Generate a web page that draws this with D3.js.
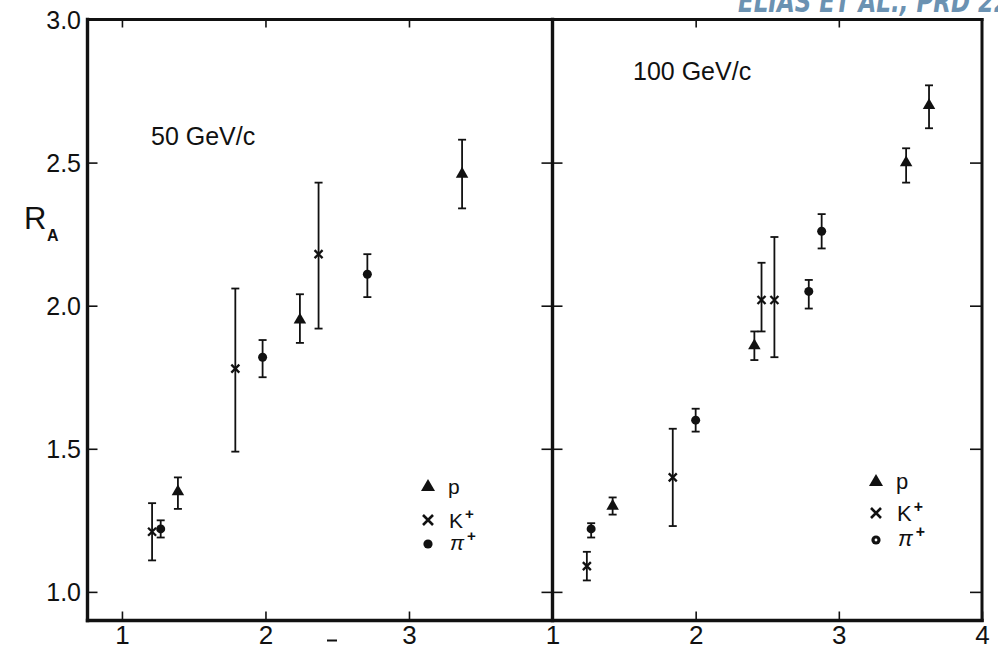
<!DOCTYPE html>
<html>
<head>
<meta charset="utf-8">
<script src="https://cdn.jsdelivr.net/npm/d3@7/dist/d3.min.js"></script>
<style>
  html, body { margin: 0; padding: 0; background: #ffffff; }
  svg { display: block; }
  text { font-family: "Liberation Sans", Arial, sans-serif; fill: #111; }
</style>
</head>
<body>
<script>
// Nuclear enhancement ratio R_A versus transverse momentum, 50 and 100 GeV/c beams.

// ---- data: 50 GeV/c ----
const p50_x   = [1.39, 2.24, 3.37];
const p50_y   = [1.35, 1.95, 2.46];
const p50_lo  = [1.29, 1.87, 2.34];
const p50_hi  = [1.40, 2.04, 2.58];

const k50_x   = [1.21, 1.79, 2.37];
const k50_y   = [1.21, 1.78, 2.18];
const k50_lo  = [1.11, 1.49, 1.92];
const k50_hi  = [1.31, 2.06, 2.43];

const pi50_x  = [1.27, 1.98, 2.71];
const pi50_y  = [1.22, 1.82, 2.11];
const pi50_lo = [1.19, 1.75, 2.03];
const pi50_hi = [1.25, 1.88, 2.18];

// ---- data: 100 GeV/c ----
const p100_x   = [1.42, 2.41, 3.47, 3.63];
const p100_y   = [1.30, 1.86, 2.50, 2.70];
const p100_lo  = [1.27, 1.81, 2.43, 2.62];
const p100_hi  = [1.33, 1.91, 2.55, 2.77];

const k100_x   = [1.24, 1.84, 2.46, 2.55];
const k100_y   = [1.09, 1.40, 2.02, 2.02];
const k100_lo  = [1.04, 1.23, 1.91, 1.82];
const k100_hi  = [1.14, 1.57, 2.15, 2.24];

const pi100_x  = [1.27, 2.00, 2.79, 2.88];
const pi100_y  = [1.22, 1.60, 2.05, 2.26];
const pi100_lo = [1.19, 1.56, 1.99, 2.20];
const pi100_hi = [1.24, 1.64, 2.09, 2.32];

// ---- axis ticks ----
const yTickValues = [1.0, 1.5, 2.0, 2.5, 3.0];
const yTickLabels = ["1.0", "1.5", "2.0", "2.5", "3.0"];
const xTicksLeft  = [1, 2, 3];
const xLabelsLeft = ["1", "2", "3"];
const xTicksRight = [1, 2, 3, 4];
const xLabelsRight = ["1", "2", "3", "4"];
const panelTitles = ["50 GeV/c", "100 GeV/c"];
const legendNames = ["p", "K", "\u03c0"];
const header = "ELIAS ET AL., PRD 22";

// ---- layout ----
const W = 998, H = 645;
const frameTop = 19.5, frameBottom = 620.5;
const leftX = 87.5, midX = 552.5, rightX = 982;

const svg = d3.select("body").append("svg").attr("width", W).attr("height", H);

const y = d3.scaleLinear().domain([0.9, 3.0]).range([frameBottom, frameTop]);
const xL = d3.scaleLinear().domain([0.76, 4.0]).range([leftX, midX]);
const xR = d3.scaleLinear().domain([1.0, 4.0]).range([midX, rightX]);

const zip = (xs, ys, los, his) => xs.map((v, i) => ({x: v, y: ys[i], lo: los[i], hi: his[i]}));

// header annotation, clipped by the page top
svg.append("text")
  .attr("x", 738).attr("y", 12)
  .attr("textLength", 272).attr("lengthAdjust", "spacingAndGlyphs")
  .style("font-family", "'DejaVu Sans', sans-serif")
  .style("font-size", "30px").style("font-style", "italic").style("font-weight", "bold")
  .style("fill", "#6b92b2")
  .text(header);

// ---- axes ----
const yFmt = (d) => yTickLabels[yTickValues.indexOf(d)];

// left y axis, inward ticks
svg.append("g").attr("transform", `translate(${leftX},0)`)
  .call(d3.axisLeft(y).tickValues(yTickValues).tickFormat(yFmt).tickSizeInner(-10).tickSizeOuter(0).tickPadding(6.5))
  .call(g => g.select(".domain").remove())
  .call(g => g.selectAll("line").attr("stroke", "#111").attr("stroke-width", 1.6))
  .call(g => g.selectAll("text").style("font-size", "25px").attr("font-family", null).attr("dy", "0.36em"));

// divider ticks crossing both panels
svg.append("g").attr("transform", `translate(${midX},0)`)
  .call(d3.axisRight(y).tickValues(yTickValues.slice(0, 4)).tickFormat("").tickSizeInner(10).tickSizeOuter(0))
  .call(g => g.select(".domain").remove())
  .call(g => g.selectAll("line").attr("x1", -11).attr("stroke", "#111").attr("stroke-width", 1.6));

// right border ticks, inward
svg.append("g").attr("transform", `translate(${rightX},0)`)
  .call(d3.axisRight(y).tickValues(yTickValues.slice(0, 4)).tickFormat("").tickSizeInner(-12).tickSizeOuter(0))
  .call(g => g.select(".domain").remove())
  .call(g => g.selectAll("line").attr("stroke", "#111").attr("stroke-width", 1.6));

function xAxes(scale, ticks, labels, topTicks) {
  svg.append("g").attr("transform", `translate(0,${frameBottom})`)
    .call(d3.axisBottom(scale).tickValues(ticks).tickFormat(d => labels[ticks.indexOf(d)])
      .tickSizeInner(-9).tickSizeOuter(0).tickPadding(5.5))
    .call(g => g.select(".domain").remove())
    .call(g => g.selectAll("line").attr("stroke", "#111").attr("stroke-width", 1.6))
    .call(g => g.selectAll("text").style("font-size", "26px").attr("font-family", null));
  svg.append("g").attr("transform", `translate(0,${frameTop})`)
    .call(d3.axisTop(scale).tickValues(topTicks).tickFormat("").tickSizeInner(-8).tickSizeOuter(0))
    .call(g => g.select(".domain").remove())
    .call(g => g.selectAll("line").attr("stroke", "#111").attr("stroke-width", 1.6));
}
xAxes(xL, xTicksLeft, xLabelsLeft, [1, 2, 3]);
xAxes(xR, xTicksRight, xLabelsRight, [2, 3]);

// frame
const frame = svg.append("g").attr("stroke", "#111").attr("fill", "none").attr("stroke-linecap", "square");
frame.append("line").attr("x1", leftX).attr("x2", rightX).attr("y1", frameTop).attr("y2", frameTop).attr("stroke-width", 3);
frame.append("line").attr("x1", leftX).attr("x2", rightX).attr("y1", frameBottom).attr("y2", frameBottom).attr("stroke-width", 3.4);
frame.append("line").attr("x1", leftX).attr("x2", leftX).attr("y1", frameTop).attr("y2", frameBottom).attr("stroke-width", 3.4);
frame.append("line").attr("x1", midX).attr("x2", midX).attr("y1", frameTop).attr("y2", frameBottom).attr("stroke-width", 3.4);
frame.append("line").attr("x1", rightX).attr("x2", rightX).attr("y1", frameTop).attr("y2", frameBottom).attr("stroke-width", 3);

// small mark below the lower axis
svg.append("line").attr("x1", 327).attr("x2", 337).attr("y1", 640.5).attr("y2", 640.5)
  .attr("stroke", "#111").attr("stroke-width", 2);

// y-axis title R_A
svg.append("text").attr("x", 24).attr("y", 229).style("font-size", "31px").text("R");
svg.append("text").attr("x", 47).attr("y", 241).style("font-size", "16px").style("font-weight", "bold").text("A");

// panel titles
svg.append("text").attr("x", 151).attr("y", 145).style("font-size", "25px").text(panelTitles[0]);
svg.append("text").attr("x", 633).attr("y", 80).style("font-size", "25px").text(panelTitles[1]);

// ---- markers ----
const triPath = (s) => d3.symbol().type(d3.symbolTriangle).size(Math.sqrt(3) / 4 * s * s)();
const crossPath = (h) => `M${-h},${-h}L${h},${h}M${-h},${h}L${h},${-h}`;

function drawSeries(scale, pts, kind) {
  const g = svg.append("g");
  // error bars
  const eb = g.selectAll("g.eb").data(pts).join("g").attr("class", "eb")
    .attr("stroke", "#111").attr("stroke-width", 1.8).attr("fill", "none");
  eb.append("line").attr("x1", d => scale(d.x)).attr("x2", d => scale(d.x))
    .attr("y1", d => y(d.hi)).attr("y2", d => y(d.lo));
  eb.append("line").attr("x1", d => scale(d.x) - 4).attr("x2", d => scale(d.x) + 4)
    .attr("y1", d => y(d.hi)).attr("y2", d => y(d.hi));
  eb.append("line").attr("x1", d => scale(d.x) - 4).attr("x2", d => scale(d.x) + 4)
    .attr("y1", d => y(d.lo)).attr("y2", d => y(d.lo));
  // symbols
  const m = g.selectAll("path.m").data(pts).join("path").attr("class", "m")
    .attr("transform", d => `translate(${scale(d.x)},${y(d.y)})`);
  if (kind === "p") m.attr("d", triPath(12.5)).attr("fill", "#111");
  if (kind === "pi") m.attr("d", d3.symbol().type(d3.symbolCircle).size(Math.PI * 4.5 * 4.5)()).attr("fill", "#111");
  if (kind === "k") m.attr("d", crossPath(4)).attr("stroke", "#111").attr("stroke-width", 2.3).attr("fill", "none");
}

drawSeries(xL, zip(k50_x, k50_y, k50_lo, k50_hi), "k");
drawSeries(xL, zip(pi50_x, pi50_y, pi50_lo, pi50_hi), "pi");
drawSeries(xL, zip(p50_x, p50_y, p50_lo, p50_hi), "p");

drawSeries(xR, zip(k100_x, k100_y, k100_lo, k100_hi), "k");
drawSeries(xR, zip(pi100_x, pi100_y, pi100_lo, pi100_hi), "pi");
drawSeries(xR, zip(p100_x, p100_y, p100_lo, p100_hi), "p");

// ---- legends ----
function legend(x0, yp, yk, ypi, size, hollowPi) {
  const g = svg.append("g");
  g.append("path").attr("d", triPath(14)).attr("fill", "#111").attr("transform", `translate(${x0},${yp})`);
  g.append("path").attr("d", crossPath(5)).attr("stroke", "#111").attr("stroke-width", 2.6).attr("fill", "none")
    .attr("transform", `translate(${x0},${yk})`);
  g.append("circle").attr("cx", x0).attr("cy", ypi).attr("r", 4.6).attr("fill", "#111");
  if (hollowPi) g.append("circle").attr("cx", x0).attr("cy", ypi).attr("r", 1.4).attr("fill", "#fff");

  const tx = x0 + 20;
  g.append("text").attr("x", tx).attr("y", yp + 7).style("font-size", size + "px").text(legendNames[0]);
  const tk = g.append("text").attr("x", tx + 1).attr("y", yk + 8).style("font-size", size + "px");
  tk.append("tspan").text(legendNames[1]);
  tk.append("tspan").attr("dx", 2).attr("dy", -9).style("font-size", (size * 0.72) + "px").style("font-weight", "bold").text("+");
  const tp = g.append("text").attr("x", tx + 2).attr("y", ypi + 6).style("font-size", size + "px").style("font-style", "italic");
  tp.append("tspan").text(legendNames[2]);
  tp.append("tspan").attr("dx", 3).attr("dy", -9).style("font-size", (size * 0.72) + "px").style("font-style", "normal").style("font-weight", "bold").text("+");
}
legend(428, 487, 520, 544, 21, false);
legend(876, 482, 513, 540, 22, true);
</script>
</body>
</html>
